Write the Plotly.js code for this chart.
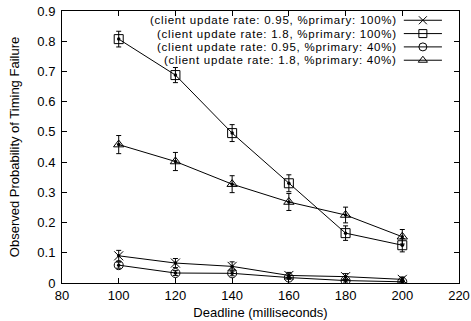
<!DOCTYPE html>
<html><head><meta charset="utf-8">
<script src="https://cdn.plot.ly/plotly-3.0.1.min.js"></script>
<style>html,body{margin:0;padding:0;background:#fff}</style>
</head><body><div id="c" style="width:471px;height:321px"></div>
<script>
const deadlines = [100, 120, 140, 160, 180, 200];
const names = [
  "(client update rate: 0.95, %primary: 100%)",
  "(client update rate: 1.8, %primary: 100%)",
  "(client update rate: 0.95, %primary: 40%)",
  "(client update rate: 1.8, %primary: 40%)"
];
const symbols = ["x-thin-open", "square-open", "circle-open", "triangle-up-open"];
const rate095p100 = [0.090, 0.066, 0.055, 0.025, 0.021, 0.012];
const rate18p100  = [0.807, 0.688, 0.496, 0.330, 0.165, 0.125];
const rate095p40  = [0.059, 0.033, 0.032, 0.018, 0.008, 0.004];
const rate18p40   = [0.458, 0.402, 0.327, 0.268, 0.225, 0.153];
const err095p100 = [0.018, 0.015, 0.015, 0.010, 0.010, 0.008];
const err18p100  = [0.026, 0.025, 0.028, 0.028, 0.024, 0.022];
const err095p40  = [0.010, 0.008, 0.008, 0.006, 0.005, 0.004];
const err18p40   = [0.030, 0.030, 0.028, 0.028, 0.026, 0.024];
const series = [rate095p100, rate18p100, rate095p40, rate18p40];
const errs = [err095p100, err18p100, err095p40, err18p40];

const traces = [];
series.forEach((ys, i) => {
  traces.push({
    x: deadlines, y: ys, type: "scatter", mode: "lines+markers",
    line: {color: "#000", width: 1},
    marker: {symbol: symbols[i], size: 9, color: "#000", line: {color: "#000", width: 1}},
    error_y: {type: "data", array: errs[i], visible: true, color: "#000", thickness: 1, width: 2.5},
    showlegend: false, hoverinfo: "skip"
  });
  traces.push({
    x: deadlines, y: ys, type: "scatter", mode: "markers",
    marker: {symbol: "circle", size: 3.5, color: "#000"},
    showlegend: false, hoverinfo: "skip"
  });
});
// legend samples on a hidden overlay axis
const legY = [0.966, 0.917, 0.868, 0.819];
const annotations = [];
names.forEach((n, i) => {
  traces.push({
    x: [0.861, 0.957], y: [legY[i], legY[i]], xaxis: "x2", yaxis: "y2",
    type: "scatter", mode: "lines", line: {color: "#000", width: 1},
    showlegend: false, hoverinfo: "skip"
  });
  traces.push({
    x: [0.909], y: [legY[i]], xaxis: "x2", yaxis: "y2",
    type: "scatter", mode: "markers",
    marker: {symbol: symbols[i], size: 8, color: "#000", line: {color: "#000", width: 1}},
    showlegend: false, hoverinfo: "skip"
  });
  annotations.push({
    xref: "x2", yref: "y2", x: 0.847, y: legY[i],
    text: '<span style="letter-spacing:0.75px">' + n + '</span>', showarrow: false,
    xanchor: "right", yanchor: "middle", borderpad: 0,
    font: {family: "Liberation Sans, Arial, sans-serif", size: 11.5, color: "#000"}
  });
});

const ff = "Liberation Sans, Arial, sans-serif";
const layout = {
  width: 471, height: 321,
  margin: {l: 62, r: 12, t: 11, b: 38},
  paper_bgcolor: "#fff", plot_bgcolor: "#fff",
  font: {family: ff, size: 13, color: "#000"},
  showlegend: false,
  xaxis: {
    range: [80, 220], tickvals: [80, 100, 120, 140, 160, 180, 200, 220],
    ticks: "inside", ticklen: 5, tickcolor: "#000", mirror: "allticks",
    showline: true, linecolor: "#000", linewidth: 1, showgrid: false, zeroline: false,
    tickfont: {family: ff, size: 13, color: "#000"},
    title: {text: "Deadline (milliseconds)", font: {family: ff, size: 13, color: "#000"}, standoff: 6}
  },
  yaxis: {
    range: [0, 0.9], tickvals: [0, 0.1, 0.2, 0.3, 0.4, 0.5, 0.6, 0.7, 0.8, 0.9],
    ticktext: ["0", "0.1", "0.2", "0.3", "0.4", "0.5", "0.6", "0.7", "0.8", "0.9"],
    ticks: "inside", ticklen: 5, tickcolor: "#000", mirror: "allticks",
    showline: true, linecolor: "#000", linewidth: 1, showgrid: false, zeroline: false,
    ticklabelstandoff: 3,
    tickfont: {family: ff, size: 13, color: "#000"},
    title: {text: "Observed Probability of Timing Failure", font: {family: ff, size: 13, color: "#000"}, standoff: 14}
  },
  xaxis2: {overlaying: "x", range: [0, 1], visible: false, fixedrange: true},
  yaxis2: {overlaying: "y", range: [0, 1], visible: false, fixedrange: true},
  annotations: annotations
};
Plotly.newPlot("c", traces, layout, {staticPlot: true, displayModeBar: false});
</script></body></html>
